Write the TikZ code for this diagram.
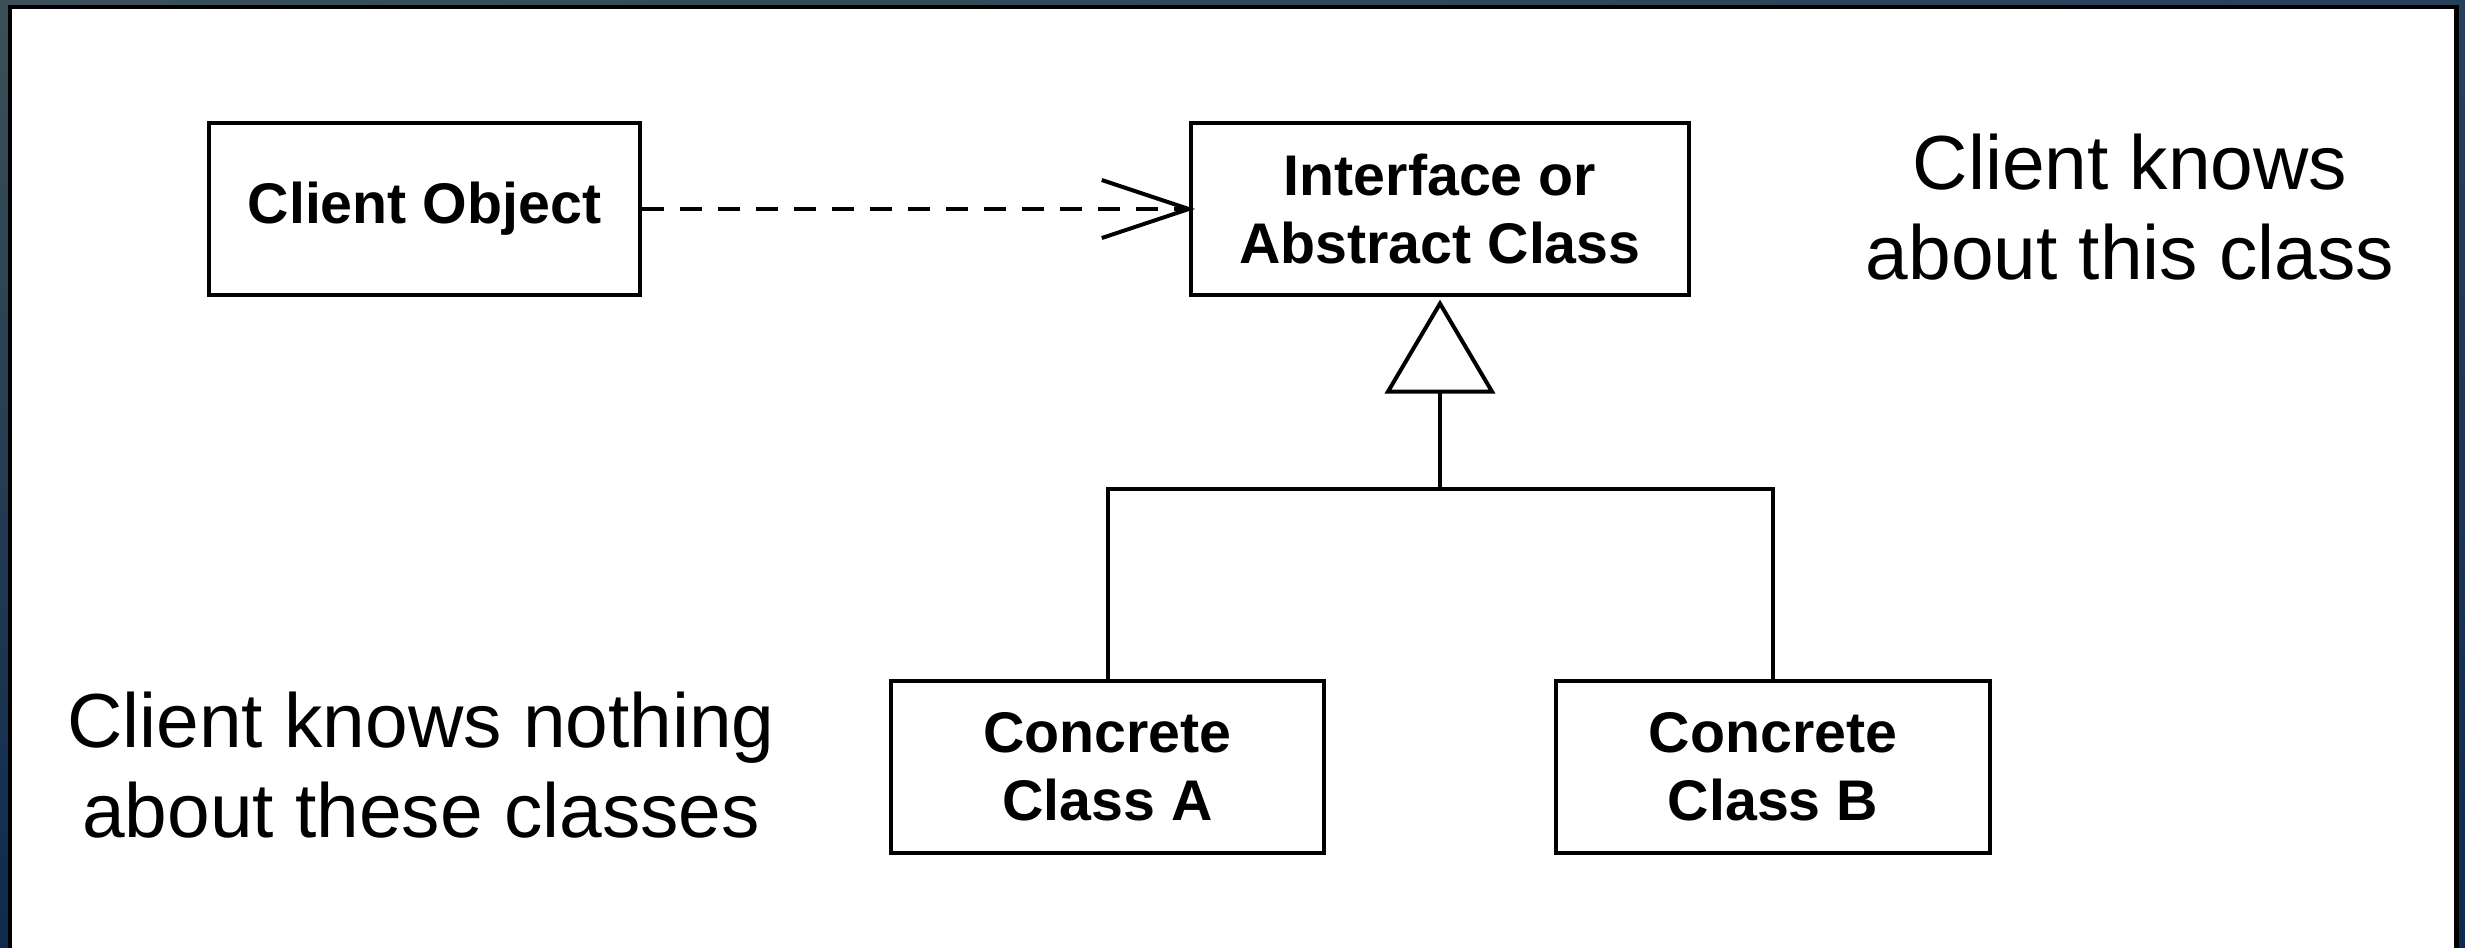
\documentclass[tikz,border=0pt]{standalone}
\usepackage{fontspec}
\setmainfont{Liberation Sans}
\usetikzlibrary{shadings}
\definecolor{bgteal}{HTML}{3B5057}
\definecolor{bgmid}{HTML}{26405C}
\definecolor{bgnavy}{HTML}{0E2A4E}
\begin{document}
\begin{tikzpicture}[x=0.01cm,y=-0.01cm,
  uml/.style={line width=0.04cm},
  classbox/.style={draw, uml, rectangle, fill=white, align=center,
    font=\fontsize{16.3pt}{19.3pt}\selectfont\bfseries, inner sep=0pt},
  note/.style={align=center, font=\fontsize{21.8pt}{25.6pt}\selectfont, inner sep=0pt}]
\useasboundingbox (0,0) rectangle (2465,947);
\shade[upper left=bgteal, upper right=bgmid, lower left=bgnavy, lower right=bgnavy] (0,0) rectangle (2465,947);
\fill[black] (8,5) rectangle (2459,960);
\fill[white] (12,9) rectangle (2454,960);

\node[classbox, minimum width=4.31cm, minimum height=1.71cm] (client) at (424.5,209) {Client Object};
\node[classbox, minimum width=4.98cm, minimum height=1.71cm] (iface) at (1440,209) {Interface or\\Abstract Class};
\node[classbox, minimum width=4.33cm, minimum height=1.72cm] (ca) at (1107.5,767) {Concrete\\Class A};
\node[classbox, minimum width=4.34cm, minimum height=1.72cm] (cb) at (1773,767) {Concrete\\Class B};

\node[note] (know) at (2130,207) {Client knows\\about this class};
\node[note] (nothing) at (421,765) {Client knows nothing\\about these classes};

% dependency
\draw[uml, dash pattern=on 0.22cm off 0.16cm] (client.east) -- (iface.west);
\draw[uml, line join=miter] ([xshift=-0.87cm,yshift=0.29cm]iface.west) -- (iface.west) -- ([xshift=-0.87cm,yshift=-0.29cm]iface.west);

% inheritance
\coordinate (apex) at ([yshift=-0.07cm]iface.south);
\coordinate (tl) at ([xshift=-0.52cm,yshift=-0.95cm]iface.south);
\coordinate (tr) at ([xshift=0.52cm,yshift=-0.95cm]iface.south);
\coordinate (tb) at ([yshift=-0.95cm]iface.south);
\coordinate (junction) at ([yshift=-1.92cm]iface.south);
\draw[uml, line join=miter] (apex) -- (tl) -- (tr) -- cycle;
\draw[uml] (tb) -- (junction);
\draw[uml] (ca.north) |- (junction) -| (cb.north);
\end{tikzpicture}
\end{document}
